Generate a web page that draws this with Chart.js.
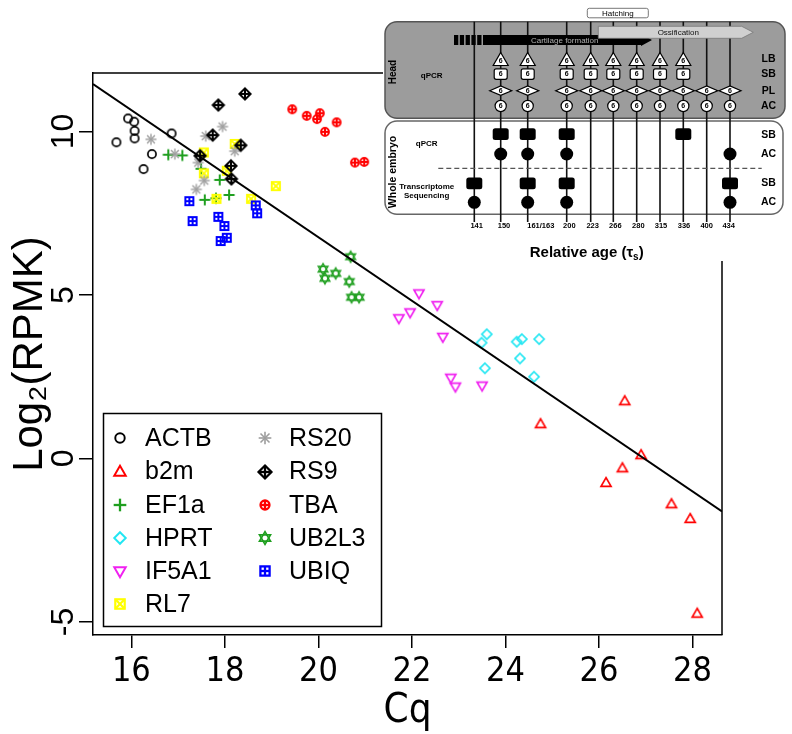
<!DOCTYPE html>
<html><head><meta charset="utf-8">
<script src="https://cdn.jsdelivr.net/npm/chart.js@4.4.1/dist/chart.umd.min.js"></script>
<style>html,body{margin:0;padding:0;background:#fff}canvas{display:block}</style>
</head><body>
<canvas id="c" width="792" height="734"></canvas>
<script>
// ---------------- DATA ----------------
const actbCq   = [15.93,16.06,16.07,16.07,15.68,16.44,16.26,16.86];
const actbLog2 = [10.40,10.30,10.02,9.79,9.67,9.31,8.85,9.94];
const b2mCq    = [24.75,26.55,26.90,26.50,26.15,27.55,27.95,28.10];
const b2mLog2  = [1.05,1.75,0.10,-0.30,-0.75,-1.40,-1.85,-4.75];
const ef1aCq   = [16.79,17.09,17.49,17.89,17.57,18.09,17.81];
const ef1aLog2 = [9.29,9.27,8.86,8.52,7.91,8.06,7.96];
const hprtCq   = [23.60,23.49,24.24,24.35,24.72,24.31,23.56,24.61];
const hprtLog2 = [3.80,3.54,3.57,3.65,3.65,3.06,2.76,2.50];
const if5a1Cq  = [22.15,22.54,21.96,21.72,22.66,22.83,22.93,23.50];
const if5a1Log2= [5.05,4.69,4.47,4.29,3.72,2.47,2.20,2.23];
const rl7Cq    = [17.55,18.21,17.55,18.04,19.09,18.56,17.82];
const rl7Log2  = [9.36,9.62,8.72,8.80,8.33,7.94,7.94];
const rs20Cq   = [16.42,16.93,17.59,17.95,18.21,17.43,17.56,17.39];
const rs20Log2 = [9.76,9.31,9.86,10.15,9.40,9.05,8.50,8.23];
const rs9Cq    = [18.43,17.86,17.74,18.34,17.47,18.13,18.14];
const rs9Log2  = [11.15,10.81,9.89,9.58,9.26,8.95,8.55];
const tbaCq    = [19.44,19.75,20.03,19.97,20.39,20.14,20.78,20.98];
const tbaLog2  = [10.68,10.48,10.56,10.38,10.28,9.99,9.05,9.07];
const ub2l3Cq  = [20.69,20.10,20.14,20.37,20.66,20.71,20.87];
const ub2l3Log2= [6.17,5.79,5.51,5.66,5.41,4.93,4.93];
const ubiqCq   = [17.24,17.31,17.86,17.99,18.66,18.69,17.91,18.04];
const ubiqLog2 = [7.87,7.26,7.39,7.11,7.74,7.50,6.65,6.75];

const fitIntercept = 26.205;
const fitSlope = -0.972;

const xTickValues = [16,18,20,22,24,26,28];
const yTickValues = [-5,0,5,10];
const xRange = [15.18, 28.63];
const yRange = [-5.40, 11.79];

// inset diagram content
const insetAges   = ['141','150','161/163','200','223','266','280','315','336','400','434'];
const headLB      = [0,1,1,1,1,1,1,1,1,0,0];
const headSB      = [0,1,1,1,1,1,1,1,1,0,0];
const headPL      = [0,1,1,1,1,1,1,1,1,1,1];
const headAC      = [0,1,1,1,1,1,1,1,1,1,1];
const wholeQpcrSB = [0,1,1,1,0,0,0,0,1,0,0];
const wholeQpcrAC = [0,1,1,1,0,0,0,0,0,0,1];
const wholeSeqSB  = [1,0,1,1,0,0,0,0,0,0,1];
const wholeSeqAC  = [1,0,1,1,0,0,0,0,0,0,1];
const replicateLabel = '6';

// ---------------- STYLE ----------------
const genes = [
  {name:'ACTB',  cq:actbCq,  val:actbLog2,  kind:'circle',      color:'#000000'},
  {name:'b2m',   cq:b2mCq,   val:b2mLog2,   kind:'triUp',       color:'#ff0000'},
  {name:'EF1a',  cq:ef1aCq,  val:ef1aLog2,  kind:'plus',        color:'#1f9f1f'},
  {name:'HPRT',  cq:hprtCq,  val:hprtLog2,  kind:'diamond',     color:'#22e6f2'},
  {name:'IF5A1', cq:if5a1Cq, val:if5a1Log2, kind:'triDown',     color:'#f020f0'},
  {name:'RL7',   cq:rl7Cq,   val:rl7Log2,   kind:'squareX',     color:'#ffff00'},
  {name:'RS20',  cq:rs20Cq,  val:rs20Log2,  kind:'asterisk',    color:'#9e9e9e'},
  {name:'RS9',   cq:rs9Cq,   val:rs9Log2,   kind:'diamondPlus', color:'#000000'},
  {name:'TBA',   cq:tbaCq,   val:tbaLog2,   kind:'circlePlus',  color:'#ff0000'},
  {name:'UB2L3', cq:ub2l3Cq, val:ub2l3Log2, kind:'star',        color:'#1f9f1f'},
  {name:'UBIQ',  cq:ubiqCq,  val:ubiqLog2,  kind:'squarePlus',  color:'#0000ff'}
];

function symbolCanvas(kind, color, k){
  const S = 2*Math.round(8*k)+4;
  const cv = document.createElement('canvas'); cv.width=S; cv.height=S;
  const g = cv.getContext('2d');
  g.translate(S/2,S/2); g.scale(k,k);
  g.strokeStyle=color; g.fillStyle=color; g.lineJoin='miter';
  const poly=(pts)=>{g.beginPath();pts.forEach((p,i)=>i?g.lineTo(p[0],p[1]):g.moveTo(p[0],p[1]));g.closePath();g.stroke();};
  const seg=(a,b,c,d)=>{g.beginPath();g.moveTo(a,b);g.lineTo(c,d);g.stroke();};
  switch(kind){
    case 'circle': g.lineWidth=1.7; g.beginPath(); g.arc(0,0,4.1,0,Math.PI*2); g.stroke(); break;
    case 'triUp': g.lineWidth=1.7; poly([[0,-5.4],[5,3.3],[-5,3.3]]); break;
    case 'triDown': g.lineWidth=1.7; poly([[0,5.4],[5,-3.3],[-5,-3.3]]); break;
    case 'plus': g.lineWidth=2; seg(-5.5,0,5.5,0); seg(0,-5.5,0,5.5); break;
    case 'diamond': g.lineWidth=1.7; poly([[0,-5],[5,0],[0,5],[-5,0]]); break;
    case 'squareX': g.lineWidth=1.9; g.strokeRect(-4.1,-4.1,8.2,8.2); seg(-4.1,-4.1,4.1,4.1); seg(-4.1,4.1,4.1,-4.1); break;
    case 'asterisk': g.lineWidth=1.4; seg(-5.5,0,5.5,0); seg(0,-5.5,0,5.5); seg(-3.9,-3.9,3.9,3.9); seg(-3.9,3.9,3.9,-3.9); break;
    case 'diamondPlus': g.lineWidth=2; poly([[0,-5.6],[5.6,0],[0,5.6],[-5.6,0]]); seg(-5.6,0,5.6,0); seg(0,-5.6,0,5.6); break;
    case 'circlePlus': g.lineWidth=2; g.beginPath(); g.arc(0,0,3.9,0,Math.PI*2); g.stroke(); seg(-3.9,0,3.9,0); seg(0,-3.9,0,3.9); break;
    case 'star': g.lineWidth=1.5; poly([[0,-5.5],[4.76,2.75],[-4.76,2.75]]); poly([[0,5.5],[4.76,-2.75],[-4.76,-2.75]]); break;
    case 'squarePlus': g.lineWidth=2; g.strokeRect(-4,-4,8,8); seg(-4,0,4,0); seg(0,-4,0,4); break;
  }
  return cv;
}

const datasets = genes.map((gn,i)=>({
  label: gn.name,
  data: gn.cq.map((x,j)=>({x:x, y:gn.val[j]})),
  pointStyle: symbolCanvas(gn.kind, gn.color, 1),
  legendSymbol: symbolCanvas(gn.kind, gn.color, 1.15),
  pointRadius: 5, showLine:false,
  order: genes.length - i + 1
}));
datasets.push({
  type:'line', label:'fit',
  data: xRange.map(x=>({x:x, y: fitIntercept + fitSlope*x})),
  borderColor:'#000', borderWidth:2, pointRadius:0, fill:false, order:0
});

// ---------------- PLUGINS ----------------
function rr(ctx,x,y,w,h,r){ctx.beginPath();ctx.moveTo(x+r,y);ctx.lineTo(x+w-r,y);ctx.arcTo(x+w,y,x+w,y+r,r);ctx.lineTo(x+w,y+h-r);ctx.arcTo(x+w,y+h,x+w-r,y+h,r);ctx.lineTo(x+r,y+h);ctx.arcTo(x,y+h,x,y+h-r,r);ctx.lineTo(x,y+r);ctx.arcTo(x,y,x+r,y,r);ctx.closePath();}

const boxPlugin = {
  id:'box',
  beforeDraw(chart){const c=chart.ctx;c.save();c.fillStyle='#fff';c.fillRect(0,0,chart.width,chart.height);c.restore();},
  afterDraw(chart){
    const ctx=chart.ctx, a=chart.chartArea;
    ctx.save();
    ctx.strokeStyle='#000'; ctx.lineWidth=1.5;
    ctx.beginPath(); ctx.moveTo(a.left,a.top); ctx.lineTo(a.right,a.top); ctx.lineTo(a.right,a.bottom); ctx.stroke();
    // legend
    ctx.strokeRect(103.5,413.5,278,213);
    ctx.font='25px "Liberation Sans", Arial, sans-serif'; ctx.fillStyle='#000';
    ctx.textAlign='left'; ctx.textBaseline='middle';
    const rowsY=[438,471.5,505,538,571,604];
    chart.data.datasets.forEach((ds,i)=>{
      if(!ds.legendSymbol) return;
      const col = i<6?0:1, row = i<6?i:i-6;
      const sx = col?265:120, tx = col?289:145, y=rowsY[row];
      const s=ds.legendSymbol;
      ctx.drawImage(s, Math.round(sx-s.width/2), Math.round(y-s.height/2));
      ctx.fillText(ds.label, tx, y+1);
    });
    ctx.restore();
    drawInset(ctx);
  }
};

const colX = [474.3,500.7,527.7,566.7,590.7,613.3,636.7,660,683.3,706.7,730];
const ageX = [476.7,504,540.8,569.3,592.7,615.3,638.3,661,684,706.7,728.7];

function drawInset(ctx){
  const F='"Liberation Sans", Arial, sans-serif';
  ctx.save();
  ctx.fillStyle='#fff'; ctx.fillRect(383,0,409,261);
  // panels
  rr(ctx,385,21.7,400,96.6,12); ctx.fillStyle='#9c9c9c'; ctx.fill(); ctx.strokeStyle='#555'; ctx.lineWidth=1.5; ctx.stroke();
  rr(ctx,385,121,398,93.3,12); ctx.fillStyle='#fff'; ctx.fill(); ctx.strokeStyle='#666'; ctx.lineWidth=1.5; ctx.stroke();
  // vertical lines
  ctx.strokeStyle='#111'; ctx.lineWidth=1.6;
  colX.forEach(x=>{ctx.beginPath();ctx.moveTo(x,21.7);ctx.lineTo(x,222);ctx.stroke();});
  // hatching box
  rr(ctx,587.3,8.3,61,9.5,2); ctx.fillStyle='#fff'; ctx.fill(); ctx.strokeStyle='#777'; ctx.lineWidth=1; ctx.stroke();
  ctx.fillStyle='#000'; ctx.font='8px '+F; ctx.textAlign='center'; ctx.textBaseline='middle';
  ctx.fillText('Hatching',617.8,13.3);
  // cartilage arrow
  ctx.fillStyle='#000';
  for(let i=0;i<5;i++) ctx.fillRect(454+i*5.8,35,4.3,10);
  ctx.beginPath(); ctx.moveTo(483,35); ctx.lineTo(641,35); ctx.lineTo(641,34); ctx.lineTo(652,40); ctx.lineTo(641,46); ctx.lineTo(641,45); ctx.lineTo(483,45); ctx.closePath(); ctx.fill();
  ctx.fillStyle='#b0b0b0'; ctx.font='8px '+F; ctx.fillText('Cartilage formation',564.7,40.3);
  // ossification arrow
  ctx.beginPath(); ctx.moveTo(598.3,26.3); ctx.lineTo(741.7,26.3); ctx.lineTo(753.3,32.3); ctx.lineTo(741.7,38.3); ctx.lineTo(598.3,38.3); ctx.closePath();
  ctx.fillStyle='#d0d0d0'; ctx.fill(); ctx.strokeStyle='#777'; ctx.lineWidth=0.8; ctx.stroke();
  ctx.fillStyle='#111'; ctx.fillText('Ossification',678.3,32.6);
  // head symbols
  const six=(x,y)=>{ctx.fillStyle='#000';ctx.font='bold 7px '+F;ctx.textAlign='center';ctx.textBaseline='middle';ctx.fillText(replicateLabel,x,y);};
  ctx.lineWidth=1.2; ctx.strokeStyle='#000';
  colX.forEach((x,i)=>{
    if(headLB[i]){ctx.beginPath();ctx.moveTo(x,52.5);ctx.lineTo(x+7.5,65.5);ctx.lineTo(x-7.5,65.5);ctx.closePath();ctx.fillStyle='#fff';ctx.fill();ctx.stroke();six(x,61.3);}
    if(headSB[i]){rr(ctx,x-6.5,68.8,13,10.5,2);ctx.fillStyle='#fff';ctx.fill();ctx.stroke();six(x,74.3);}
    if(headPL[i]){ctx.beginPath();ctx.moveTo(x-11,90.7);ctx.lineTo(x,86);ctx.lineTo(x+11,90.7);ctx.lineTo(x,95.4);ctx.closePath();ctx.fillStyle='#fff';ctx.fill();ctx.stroke();six(x,91);}
    if(headAC[i]){ctx.beginPath();ctx.arc(x,106,5.6,0,Math.PI*2);ctx.fillStyle='#fff';ctx.fill();ctx.stroke();six(x,106.3);}
  });
  // whole embryo symbols
  ctx.fillStyle='#000';
  colX.forEach((x,i)=>{
    if(wholeQpcrSB[i]){rr(ctx,x-8,128.3,16,11.7,2.5);ctx.fill();}
    if(wholeQpcrAC[i]){ctx.beginPath();ctx.arc(x,154,6.5,0,Math.PI*2);ctx.fill();}
    if(wholeSeqSB[i]){rr(ctx,x-8,177.5,16,11.7,2.5);ctx.fill();}
    if(wholeSeqAC[i]){ctx.beginPath();ctx.arc(x,202.3,6.5,0,Math.PI*2);ctx.fill();}
  });
  // dashed separator
  ctx.setLineDash([5,3]); ctx.strokeStyle='#555'; ctx.lineWidth=1.2;
  ctx.beginPath(); ctx.moveTo(438.3,168.3); ctx.lineTo(761.7,168.3); ctx.stroke(); ctx.setLineDash([]);
  // labels
  ctx.fillStyle='#000'; ctx.textAlign='center'; ctx.textBaseline='middle';
  ctx.font='bold 10.5px '+F;
  [['LB',59],['SB',74.3],['PL',90.7],['AC',106],['SB',135],['AC',154.3],['SB',183.3],['AC',202.3]].forEach(l=>ctx.fillText(l[0],768.5,l[1]));
  ctx.font='bold 8px '+F;
  ctx.fillText('qPCR',431.7,75.3);
  ctx.fillText('qPCR',426.7,143.3);
  ctx.fillText('Transcriptome',426.7,186.3);
  ctx.fillText('Sequencing',426.7,195.8);
  ctx.save(); ctx.translate(393.5,72); ctx.rotate(-Math.PI/2); ctx.font='bold 10px '+F; ctx.fillText('Head',0,0); ctx.restore();
  ctx.save(); ctx.translate(393.5,172); ctx.rotate(-Math.PI/2); ctx.font='bold 10.5px '+F; ctx.fillText('Whole embryo',0,0); ctx.restore();
  ctx.font='bold 7.5px '+F;
  insetAges.forEach((t,i)=>ctx.fillText(t,ageX[i],225.5));
  // axis title of inset
  ctx.textAlign='left'; ctx.textBaseline='alphabetic';
  const t1='Relative age (\u03C4', t3=')';
  ctx.font='bold 15px '+F; const w1=ctx.measureText(t1).width, w3=ctx.measureText(t3).width;
  ctx.font='bold 10px '+F; const w2=ctx.measureText('s').width;
  let sx=586.7-(w1+w2+w3)/2;
  ctx.font='bold 15px '+F; ctx.fillText(t1,sx,256.5);
  ctx.font='bold 10px '+F; ctx.fillText('s',sx+w1,259.5);
  ctx.font='bold 15px '+F; ctx.fillText(t3,sx+w1+w2,256.5);
  ctx.restore();
}

// ---------------- CHART ----------------
new Chart(document.getElementById('c'), {
  type:'scatter',
  data:{datasets:datasets},
  options:{
    responsive:false, animation:false, devicePixelRatio:1, events:[],
    layout:{padding:{left:0, top:73, right:70, bottom:0}},
    plugins:{legend:{display:false}, tooltip:{enabled:false}},
    scales:{
      x:{
        type:'linear', min:xRange[0], max:xRange[1],
        afterBuildTicks:(s)=>{s.ticks = xTickValues.map(v=>({value:v}));},
        afterFit:(s)=>{s.height = 99;},
        grid:{display:true, drawOnChartArea:false, drawTicks:true, tickLength:13, color:'#000', lineWidth:1.5},
        border:{display:true, color:'#000', width:1.5},
        ticks:{color:'#000', padding:4, maxRotation:0, font:{family:"'Liberation Sans Narrow', 'DejaVu Sans Condensed', sans-serif", size:34, lineHeight:1.2}, callback:(v)=>String(v)},
        title:{display:true, text:'Cq', color:'#000', font:{family:"'Liberation Sans Narrow', 'DejaVu Sans Condensed', sans-serif", size:40, lineHeight:1}, padding:{top:0,bottom:2}}
      },
      y:{
        type:'linear', min:yRange[0], max:yRange[1],
        afterBuildTicks:(s)=>{s.ticks = yTickValues.map(v=>({value:v}));},
        afterFit:(s)=>{s.width = 93;},
        grid:{display:true, drawOnChartArea:false, drawTicks:true, tickLength:14, color:'#000', lineWidth:1.5},
        border:{display:true, color:'#000', width:1.5},
        ticks:{color:'#000', padding:-3, minRotation:90, maxRotation:90, crossAlign:'center', font:{family:"'Liberation Sans', Arial, sans-serif", size:32}, callback:(v)=>String(v)},
        title:{display:true, text:'Log\u2082(RPMK)', color:'#000', font:{family:"'Liberation Sans', Arial, sans-serif", size:42, lineHeight:1}, padding:{top:9,bottom:0}}
      }
    }
  },
  plugins:[boxPlugin]
});
</script>
</body></html>
